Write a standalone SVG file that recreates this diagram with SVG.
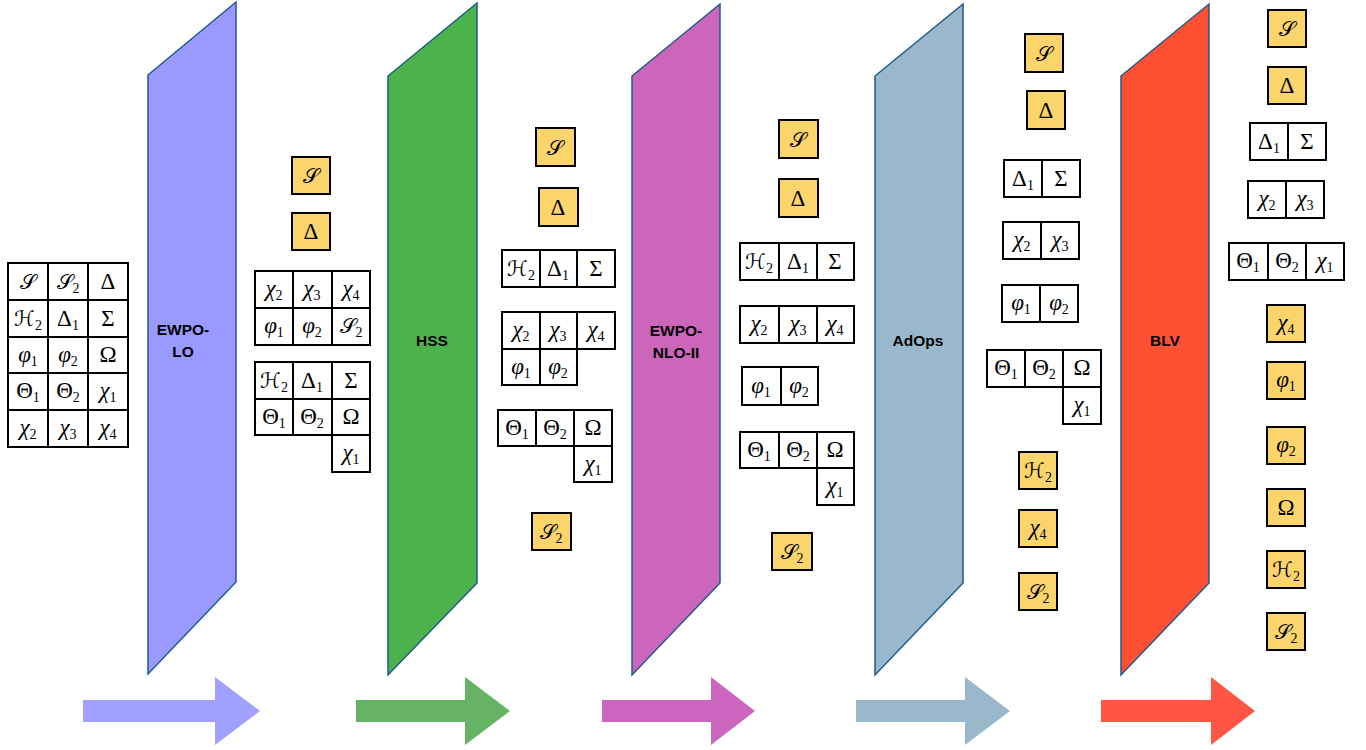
<svg xmlns="http://www.w3.org/2000/svg" width="1366" height="750" viewBox="0 0 1366 750">
  <style>
    .c { fill: #ffffff; stroke: #000000; stroke-width: 2; }
    .y { fill: #fbd46b; stroke: #000000; stroke-width: 2; }
    .m { font-family: "Liberation Serif", "DejaVu Serif", serif; font-size: 23px; text-anchor: middle; fill: #000; }
    .i { font-style: italic; }
    .s { font-family: "DejaVu Serif", "DejaVu Sans", "Noto Sans", serif; font-style: normal; font-size: 21px; }
    .sub { font-size: 14px; font-style: normal; font-family: "Liberation Serif", serif; }
    .panel { stroke: #1f5a8a; stroke-width: 1.5; }
    .lbl { font-family: "Liberation Sans", Arial, sans-serif; font-weight: bold; font-size: 15.5px; text-anchor: middle; fill: #000; }
  </style>

  <rect width="1366" height="750" fill="#ffffff"/>

  <!-- input table -->
  <g id="input">
    <rect class="c" x="8" y="263" width="40" height="37"/><text class="m s" x="28" y="289">𝒮</text>
    <rect class="c" x="48" y="263" width="40" height="37"/><text class="m s" x="68" y="289">𝒮<tspan class="sub" dy="4">2</tspan></text>
    <rect class="c" x="88" y="263" width="40" height="37"/><text class="m" x="108" y="289">Δ</text>
    <rect class="c" x="8" y="300" width="40" height="37"/><text class="m s" x="28" y="326">ℋ<tspan class="sub" dy="4">2</tspan></text>
    <rect class="c" x="48" y="300" width="40" height="37"/><text class="m" x="68" y="326">Δ<tspan class="sub" dy="4">1</tspan></text>
    <rect class="c" x="88" y="300" width="40" height="37"/><text class="m" x="108" y="326">Σ</text>
    <rect class="c" x="8" y="337" width="40" height="36"/><text class="m i" x="28" y="362">φ<tspan class="sub" dy="4">1</tspan></text>
    <rect class="c" x="48" y="337" width="40" height="36"/><text class="m i" x="68" y="362">φ<tspan class="sub" dy="4">2</tspan></text>
    <rect class="c" x="88" y="337" width="40" height="36"/><text class="m" x="108" y="362">Ω</text>
    <rect class="c" x="8" y="373" width="40" height="37"/><text class="m" x="28" y="398">Θ<tspan class="sub" dy="4">1</tspan></text>
    <rect class="c" x="48" y="373" width="40" height="37"/><text class="m" x="68" y="398">Θ<tspan class="sub" dy="4">2</tspan></text>
    <rect class="c" x="88" y="373" width="40" height="37"/><text class="m i" x="108" y="398">χ<tspan class="sub" dy="4">1</tspan></text>
    <rect class="c" x="8" y="410" width="40" height="37"/><text class="m i" x="28" y="435">χ<tspan class="sub" dy="4">2</tspan></text>
    <rect class="c" x="48" y="410" width="40" height="37"/><text class="m i" x="68" y="435">χ<tspan class="sub" dy="4">3</tspan></text>
    <rect class="c" x="88" y="410" width="40" height="37"/><text class="m i" x="108" y="435">χ<tspan class="sub" dy="4">4</tspan></text>
  </g>

  <!-- stage panels -->
  <g id="ewpo-lo">
    <polygon class="panel" fill="#9999ff" points="148,75 236,2 236,582 148,674"/>
    <text class="lbl" x="183" y="335">EWPO-</text>
    <text class="lbl" x="183" y="357">LO</text>
  </g>
  <g id="hss">
    <polygon class="panel" fill="#4cb34c" points="388,76 477,3 477,583 388,675"/>
    <text class="lbl" x="432" y="346">HSS</text>
  </g>
  <g id="ewpo-nlo-ii">
    <polygon class="panel" fill="#cc66bb" points="632,76 720,4 720,583 632,675"/>
    <text class="lbl" x="676" y="336">EWPO-</text>
    <text class="lbl" x="676" y="358">NLO-II</text>
  </g>
  <g id="adops">
    <polygon class="panel" fill="#99b8cc" points="875,76 963,4 963,583 875,675"/>
    <text class="lbl" x="918" y="346">AdOps</text>
  </g>
  <g id="blv">
    <polygon class="panel" fill="#ff5033" points="1121,76 1209,4 1209,583 1121,675"/>
    <text class="lbl" x="1165" y="346">BLV</text>
  </g>

  <!-- after EWPO-LO -->
  <g id="stage1">
    <rect class="y" x="292" y="157" width="38" height="37"/><text class="m s" x="311" y="183">𝒮</text>
    <rect class="y" x="292" y="213" width="38" height="37"/><text class="m" x="311" y="239">Δ</text>
    <rect class="c" x="255" y="271" width="38" height="37"/><text class="m i" x="274" y="296">χ<tspan class="sub" dy="4">2</tspan></text>
    <rect class="c" x="293" y="271" width="39" height="37"/><text class="m i" x="312" y="296">χ<tspan class="sub" dy="4">3</tspan></text>
    <rect class="c" x="332" y="271" width="38" height="37"/><text class="m i" x="351" y="296">χ<tspan class="sub" dy="4">4</tspan></text>
    <rect class="c" x="255" y="308" width="38" height="37"/><text class="m i" x="274" y="333">φ<tspan class="sub" dy="4">1</tspan></text>
    <rect class="c" x="293" y="308" width="39" height="37"/><text class="m i" x="312" y="333">φ<tspan class="sub" dy="4">2</tspan></text>
    <rect class="c" x="332" y="308" width="38" height="37"/><text class="m s" x="351" y="333">𝒮<tspan class="sub" dy="4">2</tspan></text>
    <rect class="c" x="255" y="362" width="38" height="37"/><text class="m s" x="274" y="388">ℋ<tspan class="sub" dy="4">2</tspan></text>
    <rect class="c" x="293" y="362" width="39" height="37"/><text class="m" x="312" y="388">Δ<tspan class="sub" dy="4">1</tspan></text>
    <rect class="c" x="332" y="362" width="38" height="37"/><text class="m" x="351" y="388">Σ</text>
    <rect class="c" x="255" y="399" width="38" height="36"/><text class="m" x="274" y="424">Θ<tspan class="sub" dy="4">1</tspan></text>
    <rect class="c" x="293" y="399" width="39" height="36"/><text class="m" x="312" y="424">Θ<tspan class="sub" dy="4">2</tspan></text>
    <rect class="c" x="332" y="399" width="38" height="36"/><text class="m" x="351" y="424">Ω</text>
    <rect class="c" x="332" y="435" width="38" height="37"/><text class="m i" x="351" y="460">χ<tspan class="sub" dy="4">1</tspan></text>
  </g>

  <!-- after HSS -->
  <g id="stage2">
    <rect class="y" x="536" y="128" width="39" height="38"/><text class="m s" x="555" y="155">𝒮</text>
    <rect class="y" x="539" y="188" width="39" height="38"/><text class="m" x="558" y="215">Δ</text>
    <rect class="c" x="502" y="250" width="38" height="37"/><text class="m s" x="521" y="276">ℋ<tspan class="sub" dy="4">2</tspan></text>
    <rect class="c" x="540" y="250" width="37" height="37"/><text class="m" x="558" y="276">Δ<tspan class="sub" dy="4">1</tspan></text>
    <rect class="c" x="577" y="250" width="38" height="37"/><text class="m" x="596" y="276">Σ</text>
    <rect class="c" x="502" y="312" width="38" height="37"/><text class="m i" x="521" y="337">χ<tspan class="sub" dy="4">2</tspan></text>
    <rect class="c" x="540" y="312" width="37" height="37"/><text class="m i" x="558" y="337">χ<tspan class="sub" dy="4">3</tspan></text>
    <rect class="c" x="577" y="312" width="38" height="37"/><text class="m i" x="596" y="337">χ<tspan class="sub" dy="4">4</tspan></text>
    <rect class="c" x="502" y="349" width="38" height="36"/><text class="m i" x="521" y="374">φ<tspan class="sub" dy="4">1</tspan></text>
    <rect class="c" x="540" y="349" width="37" height="36"/><text class="m i" x="558" y="374">φ<tspan class="sub" dy="4">2</tspan></text>
    <rect class="c" x="498" y="410" width="38" height="36"/><text class="m" x="517" y="435">Θ<tspan class="sub" dy="4">1</tspan></text>
    <rect class="c" x="536" y="410" width="38" height="36"/><text class="m" x="555" y="435">Θ<tspan class="sub" dy="4">2</tspan></text>
    <rect class="c" x="574" y="410" width="38" height="36"/><text class="m" x="593" y="435">Ω</text>
    <rect class="c" x="574" y="446" width="38" height="36"/><text class="m i" x="593" y="471">χ<tspan class="sub" dy="4">1</tspan></text>
    <rect class="y" x="532" y="513" width="39" height="37"/><text class="m s" x="551" y="539">𝒮<tspan class="sub" dy="4">2</tspan></text>
  </g>

  <!-- after EWPO-NLO-II -->
  <g id="stage3">
    <rect class="y" x="779" y="120" width="39" height="38"/><text class="m s" x="798" y="147">𝒮</text>
    <rect class="y" x="779" y="179" width="39" height="38"/><text class="m" x="798" y="206">Δ</text>
    <rect class="c" x="740" y="243" width="39" height="37"/><text class="m s" x="759" y="269">ℋ<tspan class="sub" dy="4">2</tspan></text>
    <rect class="c" x="779" y="243" width="38" height="37"/><text class="m" x="798" y="269">Δ<tspan class="sub" dy="4">1</tspan></text>
    <rect class="c" x="817" y="243" width="37" height="37"/><text class="m" x="835" y="269">Σ</text>
    <rect class="c" x="740" y="306" width="39" height="37"/><text class="m i" x="759" y="331">χ<tspan class="sub" dy="4">2</tspan></text>
    <rect class="c" x="779" y="306" width="38" height="37"/><text class="m i" x="798" y="331">χ<tspan class="sub" dy="4">3</tspan></text>
    <rect class="c" x="817" y="306" width="37" height="37"/><text class="m i" x="835" y="331">χ<tspan class="sub" dy="4">4</tspan></text>
    <rect class="c" x="742" y="367" width="39" height="38"/><text class="m i" x="761" y="393">φ<tspan class="sub" dy="4">1</tspan></text>
    <rect class="c" x="781" y="367" width="37" height="38"/><text class="m i" x="799" y="393">φ<tspan class="sub" dy="4">2</tspan></text>
    <rect class="c" x="740" y="432" width="39" height="36"/><text class="m" x="759" y="457">Θ<tspan class="sub" dy="4">1</tspan></text>
    <rect class="c" x="779" y="432" width="38" height="36"/><text class="m" x="798" y="457">Θ<tspan class="sub" dy="4">2</tspan></text>
    <rect class="c" x="817" y="432" width="37" height="36"/><text class="m" x="835" y="457">Ω</text>
    <rect class="c" x="817" y="468" width="37" height="37"/><text class="m i" x="835" y="493">χ<tspan class="sub" dy="4">1</tspan></text>
    <rect class="y" x="772" y="533" width="40" height="37"/><text class="m s" x="792" y="559">𝒮<tspan class="sub" dy="4">2</tspan></text>
  </g>

  <!-- after AdOps -->
  <g id="stage4">
    <rect class="y" x="1025" y="34" width="38" height="38"/><text class="m s" x="1044" y="61">𝒮</text>
    <rect class="y" x="1027" y="91" width="38" height="38"/><text class="m" x="1046" y="118">Δ</text>
    <rect class="c" x="1004" y="160" width="38" height="37"/><text class="m" x="1023" y="186">Δ<tspan class="sub" dy="4">1</tspan></text>
    <rect class="c" x="1042" y="160" width="38" height="37"/><text class="m" x="1061" y="186">Σ</text>
    <rect class="c" x="1003" y="222" width="38" height="37"/><text class="m i" x="1022" y="247">χ<tspan class="sub" dy="4">2</tspan></text>
    <rect class="c" x="1041" y="222" width="38" height="37"/><text class="m i" x="1060" y="247">χ<tspan class="sub" dy="4">3</tspan></text>
    <rect class="c" x="1002" y="285" width="38" height="37"/><text class="m i" x="1021" y="310">φ<tspan class="sub" dy="4">1</tspan></text>
    <rect class="c" x="1040" y="285" width="38" height="37"/><text class="m i" x="1059" y="310">φ<tspan class="sub" dy="4">2</tspan></text>
    <rect class="c" x="987" y="350" width="38" height="37"/><text class="m" x="1006" y="375">Θ<tspan class="sub" dy="4">1</tspan></text>
    <rect class="c" x="1025" y="350" width="38" height="37"/><text class="m" x="1044" y="375">Θ<tspan class="sub" dy="4">2</tspan></text>
    <rect class="c" x="1063" y="350" width="38" height="37"/><text class="m" x="1082" y="375">Ω</text>
    <rect class="c" x="1063" y="387" width="38" height="37"/><text class="m i" x="1082" y="412">χ<tspan class="sub" dy="4">1</tspan></text>
    <rect class="y" x="1019" y="452" width="38" height="37"/><text class="m s" x="1038" y="478">ℋ<tspan class="sub" dy="4">2</tspan></text>
    <rect class="y" x="1019" y="510" width="38" height="37"/><text class="m i" x="1038" y="535">χ<tspan class="sub" dy="4">4</tspan></text>
    <rect class="y" x="1019" y="573" width="38" height="37"/><text class="m s" x="1038" y="599">𝒮<tspan class="sub" dy="4">2</tspan></text>
  </g>

  <!-- after BLV -->
  <g id="stage5">
    <rect class="y" x="1268" y="10" width="38" height="37"/><text class="m s" x="1287" y="36">𝒮</text>
    <rect class="y" x="1268" y="67" width="38" height="37"/><text class="m" x="1287" y="93">Δ</text>
    <rect class="c" x="1250" y="123" width="38" height="37"/><text class="m" x="1269" y="149">Δ<tspan class="sub" dy="4">1</tspan></text>
    <rect class="c" x="1288" y="123" width="38" height="37"/><text class="m" x="1307" y="149">Σ</text>
    <rect class="c" x="1248" y="181" width="38" height="37"/><text class="m i" x="1267" y="206">χ<tspan class="sub" dy="4">2</tspan></text>
    <rect class="c" x="1286" y="181" width="38" height="37"/><text class="m i" x="1305" y="206">χ<tspan class="sub" dy="4">3</tspan></text>
    <rect class="c" x="1229" y="243" width="39" height="37"/><text class="m" x="1248" y="268">Θ<tspan class="sub" dy="4">1</tspan></text>
    <rect class="c" x="1268" y="243" width="38" height="37"/><text class="m" x="1287" y="268">Θ<tspan class="sub" dy="4">2</tspan></text>
    <rect class="c" x="1306" y="243" width="38" height="37"/><text class="m i" x="1325" y="268">χ<tspan class="sub" dy="4">1</tspan></text>
    <rect class="y" x="1267" y="305" width="38" height="37"/><text class="m i" x="1286" y="330">χ<tspan class="sub" dy="4">4</tspan></text>
    <rect class="y" x="1267" y="362" width="38" height="37"/><text class="m i" x="1286" y="387">φ<tspan class="sub" dy="4">1</tspan></text>
    <rect class="y" x="1267" y="427" width="38" height="37"/><text class="m i" x="1286" y="452">φ<tspan class="sub" dy="4">2</tspan></text>
    <rect class="y" x="1267" y="489" width="38" height="37"/><text class="m" x="1286" y="515">Ω</text>
    <rect class="y" x="1267" y="551" width="38" height="37"/><text class="m s" x="1286" y="577">ℋ<tspan class="sub" dy="4">2</tspan></text>
    <rect class="y" x="1267" y="613" width="38" height="37"/><text class="m s" x="1286" y="639">𝒮<tspan class="sub" dy="4">2</tspan></text>
  </g>

  <!-- flow arrows -->
  <g id="connectors">
    <polygon fill="#a0a0ff" points="83,700 215,700 215,677 260,711 215,745 215,722 83,722"/>
    <polygon fill="#66b366" points="356,700 465,700 465,677 510,711 465,745 465,722 356,722"/>
    <polygon fill="#cc66c0" points="602,700 711,700 711,677 755,711 711,745 711,722 602,722"/>
    <polygon fill="#99b8cc" points="856,700 965,700 965,677 1010,711 965,745 965,722 856,722"/>
    <polygon fill="#ff5544" points="1101,700 1211,700 1211,677 1255,711 1211,745 1211,722 1101,722"/>
  </g>
</svg>
